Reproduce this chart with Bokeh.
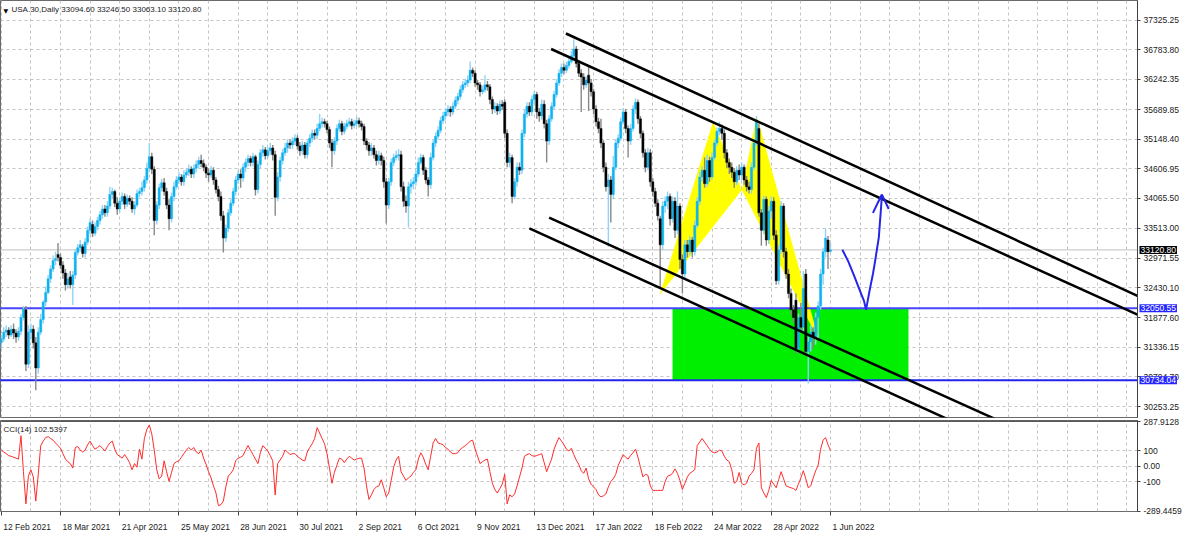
from bokeh.plotting import figure
from bokeh.layouts import column, row
from bokeh.models import (Range1d, FixedTicker, PrintfTickFormatter, Label, LinearAxis,
                          ColumnDataSource, Span)
from bokeh.embed import file_html
from bokeh.resources import INLINE

# ---------------- data (USA.30 daily, bar index 0 = 12 Feb 2021) ----------------
opens = [
31420, 31491, 31615, 31651, 31562, 31669, 31598, 31527, 31633, 31882,
32024, 31030, 31615, 31669, 31420, 30959, 31615, 31846, 32166, 32343,
32592, 32769, 32929, 33035, 32982, 32840, 32698, 32485, 32627, 32485,
32663, 33071, 33160, 33177, 33053, 33266, 33479, 33586, 33426, 33550,
33657, 33763, 33870, 33799, 33923, 34136, 34189, 33976, 33870, 34012,
34100, 33958, 34065, 34012, 33870, 33941, 34154, 34189, 34260, 34402,
34615, 34828, 34597, 33657, 33941, 34260, 34349, 34189, 33941, 33692,
34100, 34278, 34402, 34455, 34367, 34491, 34544, 34597, 34509, 34615,
34686, 34757, 34704, 34633, 34526, 34491, 34580, 34402, 34225, 34100,
33745, 33337, 33515, 33799, 33976, 34189, 34402, 34509, 34438, 34633,
34722, 34793, 34722, 34828, 34225, 34686, 34899, 34952, 34846, 34935,
34988, 34864, 34083, 34455, 34757, 34899, 34988, 35077, 35041, 35112,
35165, 35023, 34935, 35041, 34864, 35077, 35165, 35254, 35219, 35343,
35432, 35467, 35432, 35325, 35077, 34935, 35112, 35343, 35432, 35290,
35378, 35432, 35467, 35396, 35432, 35485, 35432, 35378, 35112, 35041,
34935, 34988, 34864, 34757, 34846, 34757, 34367, 33941, 34367, 34722,
34810, 34846, 34864, 34278, 34012, 33923, 34278, 34331, 34367, 34509,
34722, 34810, 34580, 34402, 34313, 34810, 35077, 35201, 35307, 35485,
35574, 35645, 35698, 35645, 35751, 35858, 35929, 36053, 36142, 36177,
36230, 36408, 36355, 36177, 36142, 36017, 36053, 36142, 36106, 35875,
35698, 35751, 35662, 35787, 35822, 35254, 34722, 34810, 34100, 34367,
34633, 34580, 35254, 35609, 35751, 35645, 35875, 35964, 35645, 35574,
35787, 35432, 35112, 35520, 35751, 35964, 36177, 36355, 36461, 36408,
36497, 36568, 36674, 36798, 36532, 36355, 36284, 36142, 36319, 36177,
36017, 35698, 35467, 35343, 35077, 34633, 34278, 34402, 34136, 34633,
35077, 35165, 35467, 35645, 35343, 35112, 35343, 35698, 35822, 35520,
35254, 34899, 34633, 34899, 34367, 34189, 33976, 33692, 33213, 33923,
34012, 34100, 33692, 34012, 33479, 33923, 32947, 32680, 33213, 33089,
33302, 33089, 33568, 34012, 34455, 34580, 34331, 34757, 34455, 34810,
35077, 35290, 35343, 35254, 34899, 34722, 34633, 34544, 34367, 34580,
34491, 34633, 34402, 34278, 34225, 34633, 35077, 35343, 33799, 33479,
34047, 33302, 33834, 34012, 33390, 32556, 33124, 33923, 33089, 32680,
32325, 32024, 32201, 31314, 31882, 31704, 32680, 31260, 31438, 31615,
31527, 31882, 32095, 32680, 33089, 33302, 33094.60]

highs = [
31562, 31704, 31740, 31704, 31740, 31775, 31669, 31704, 31953, 32095,
32095, 31740, 31775, 31740, 31527, 31704, 31953, 32201, 32450, 32663,
32840, 33018, 33089, 33248, 33053, 32911, 32769, 32698, 32734, 32734,
33124, 33231, 33302, 33231, 33337, 33550, 33692, 33657, 33621, 33728,
33834, 33941, 33941, 34012, 34278, 34260, 34225, 34083, 34083, 34171,
34154, 34136, 34118, 34083, 34012, 34225, 34260, 34367, 34473, 34722,
35077, 34899, 34651, 34012, 34331, 34420, 34438, 34260, 34047, 34171,
34367, 34473, 34544, 34509, 34580, 34615, 34686, 34651, 34686, 34757,
34828, 34864, 34775, 34686, 34615, 34651, 34633, 34455, 34296, 34189,
33834, 33586, 33870, 34047, 34260, 34473, 34580, 34597, 34704, 34793,
34864, 34846, 34899, 34864, 34757, 34970, 35041, 35006, 35006, 35077,
35041, 34935, 34544, 34828, 34970, 35077, 35148, 35148, 35183, 35236,
35219, 35094, 35112, 35094, 35148, 35236, 35325, 35325, 35432, 35609,
35538, 35520, 35485, 35378, 35148, 35183, 35414, 35503, 35485, 35449,
35503, 35538, 35520, 35503, 35556, 35538, 35485, 35432, 35165, 35094,
35077, 35041, 34935, 34935, 34899, 34828, 34438, 34438, 34793, 34881,
34935, 34970, 34935, 34367, 34118, 34367, 34420, 34455, 34580, 34810,
34881, 34864, 34633, 34455, 34899, 35148, 35272, 35378, 35556, 35645,
35716, 35769, 35751, 35822, 35929, 35999, 36124, 36213, 36248, 36319,
36568, 36461, 36408, 36230, 36195, 36124, 36319, 36213, 36159, 35929,
35822, 35804, 35858, 35858, 35875, 35325, 34899, 34864, 34438, 34722,
34722, 35325, 35680, 35822, 35822, 35946, 36035, 36017, 35716, 35875,
35858, 35503, 35591, 35822, 36035, 36248, 36426, 36532, 36532, 36568,
36639, 36763, 36976, 36852, 36585, 36426, 36355, 36301, 36497, 36248,
36071, 35769, 35538, 35520, 35130, 34722, 34509, 34473, 34846, 35148,
35236, 35538, 35716, 35698, 35396, 35432, 35769, 35893, 35875, 35574,
35307, 34970, 34988, 34970, 34438, 34260, 34047, 33745, 34012, 34100,
34189, 34154, 34100, 34083, 34189, 33976, 33035, 33302, 33302, 33373,
33355, 33657, 34083, 34544, 34651, 34810, 34864, 34828, 34899, 35148,
35361, 35467, 35414, 35325, 34970, 34793, 34722, 34615, 34651, 34686,
34722, 34686, 34473, 34367, 34722, 35148, 35574, 35432, 33870, 34118,
34100, 33923, 34100, 34083, 33479, 33213, 34012, 33976, 33160, 32769,
32414, 32112, 32325, 31953, 32148, 32734, 32769, 31527, 31740, 31704,
31970, 32183, 32769, 33160, 33515, 33373, 33246.50]

lows = [
31314, 31438, 31527, 31491, 31527, 31491, 31420, 31456, 31562, 31828,
30905, 30959, 31491, 31314, 30550, 30852, 31562, 31775, 32095, 32308,
32521, 32716, 32840, 32911, 32769, 32592, 32379, 32414, 32414, 32112,
32592, 33018, 33089, 32982, 32982, 33213, 33408, 33355, 33373, 33479,
33586, 33692, 33728, 33728, 33870, 34047, 33905, 33763, 33799, 33941,
33870, 33905, 33941, 33799, 33763, 33905, 34083, 34118, 34189, 34331,
34544, 34509, 33390, 33586, 33870, 34189, 34118, 33870, 33479, 33621,
34012, 34225, 34331, 34296, 34296, 34438, 34473, 34438, 34438, 34544,
34615, 34633, 34562, 34438, 34367, 34438, 34313, 34154, 34012, 33657,
33071, 33266, 33444, 33745, 33923, 34118, 34331, 34260, 34367, 34544,
34651, 34651, 34651, 34118, 34154, 34615, 34828, 34775, 34793, 34864,
34757, 33745, 34012, 34367, 34686, 34846, 34899, 34970, 34970, 35041,
34952, 34846, 34864, 34793, 34793, 35006, 35094, 35148, 35148, 35290,
35361, 35361, 35254, 34988, 34633, 34864, 35041, 35290, 35219, 35236,
35325, 35378, 35325, 35343, 35378, 35361, 35307, 35041, 34952, 34846,
34846, 34793, 34668, 34686, 34668, 34260, 33603, 33870, 34296, 34651,
34757, 34757, 34189, 33905, 33799, 33532, 34154, 34225, 34296, 34455,
34686, 34491, 34331, 34100, 34242, 34757, 35006, 35148, 35254, 35432,
35503, 35574, 35556, 35591, 35698, 35787, 35875, 35999, 36088, 36106,
36177, 36284, 36106, 36053, 35929, 35964, 35999, 36035, 35787, 35609,
35627, 35591, 35609, 35680, 35165, 34633, 34633, 33976, 34047, 34278,
34491, 34509, 35183, 35538, 35574, 35574, 35787, 35520, 35467, 35503,
35343, 34722, 35041, 35467, 35698, 35911, 36124, 36284, 36337, 36355,
36443, 36532, 36621, 36461, 36284, 35645, 36053, 36088, 35662, 35929,
35609, 35378, 35254, 34988, 34544, 34189, 33177, 33621, 34047, 34580,
34988, 35112, 35414, 35254, 34810, 35041, 35290, 35609, 35432, 35165,
34810, 34544, 34580, 34278, 34100, 33905, 33657, 32414, 33124, 33799,
33870, 33568, 33621, 33337, 33408, 32769, 32325, 32592, 32982, 33018,
32982, 33018, 33515, 33941, 34367, 34260, 34278, 34367, 34402, 34757,
35023, 35219, 35148, 34793, 34615, 34509, 34438, 34260, 34313, 34402,
34402, 34313, 34189, 34154, 34154, 34580, 35023, 33728, 33195, 33408,
33195, 33231, 33692, 33302, 32485, 32485, 33053, 32982, 32592, 32237,
31935, 31793, 31207, 31243, 31633, 31633, 31172, 30675, 31260, 31314,
31385, 31491, 32024, 32485, 32982, 32769, 33063.10]

closes = [
31491, 31615, 31651, 31562, 31669, 31598, 31527, 31633, 31882, 32041,
31030, 31615, 31669, 31420, 30959, 31615, 31846, 32166, 32343, 32592,
32769, 32929, 32964, 32982, 32840, 32698, 32485, 32592, 32485, 32663,
33071, 33160, 33213, 33053, 33266, 33479, 33621, 33426, 33550, 33657,
33763, 33870, 33799, 33923, 34136, 34189, 33976, 33870, 34012, 34100,
33958, 34065, 34012, 33870, 33941, 34154, 34189, 34260, 34402, 34615,
34828, 34597, 33657, 33941, 34260, 34349, 34189, 33941, 33692, 34100,
34278, 34402, 34455, 34367, 34491, 34544, 34597, 34509, 34615, 34686,
34757, 34704, 34633, 34526, 34491, 34580, 34402, 34225, 34100, 33745,
33337, 33515, 33799, 33976, 34189, 34402, 34509, 34438, 34633, 34722,
34793, 34722, 34828, 34225, 34686, 34899, 34952, 34846, 34935, 34988,
34864, 34083, 34455, 34757, 34899, 34988, 35077, 35041, 35112, 35165,
35023, 34935, 35041, 34864, 35077, 35165, 35254, 35219, 35343, 35432,
35467, 35432, 35325, 35077, 34935, 35112, 35343, 35432, 35290, 35378,
35432, 35467, 35396, 35432, 35485, 35432, 35378, 35112, 35041, 34935,
34988, 34864, 34757, 34846, 34757, 34367, 33941, 34367, 34722, 34810,
34846, 34864, 34278, 34012, 33923, 34278, 34331, 34367, 34509, 34722,
34810, 34580, 34402, 34313, 34810, 35077, 35201, 35307, 35485, 35574,
35645, 35698, 35645, 35751, 35858, 35929, 36053, 36142, 36177, 36230,
36408, 36355, 36177, 36142, 36017, 36053, 36142, 36106, 35875, 35698,
35751, 35662, 35787, 35751, 35254, 34722, 34810, 34100, 34367, 34633,
34580, 35254, 35609, 35751, 35645, 35875, 35964, 35645, 35574, 35787,
35432, 35112, 35520, 35751, 35964, 36177, 36355, 36461, 36408, 36497,
36568, 36674, 36798, 36532, 36355, 36284, 36142, 36230, 36177, 36017,
35698, 35467, 35343, 35077, 34633, 34278, 34402, 34136, 34633, 35077,
35165, 35467, 35645, 35343, 35112, 35343, 35698, 35822, 35520, 35254,
34899, 34633, 34899, 34367, 34189, 33976, 33745, 33213, 33923, 34012,
34100, 33692, 34012, 33479, 33923, 32947, 32680, 33213, 33089, 33302,
33089, 33568, 34012, 34455, 34580, 34331, 34757, 34455, 34810, 35077,
35290, 35343, 35254, 34899, 34722, 34633, 34544, 34367, 34580, 34491,
34633, 34402, 34278, 34225, 34633, 35077, 35467, 33799, 33479, 34047,
33302, 33834, 34012, 33390, 32556, 33124, 33923, 33089, 32680, 32325,
32024, 31882, 31314, 31882, 31704, 32414, 31260, 31438, 31615, 31527,
31882, 32095, 32680, 33089, 33337, 33089, 33120.80]

cci = [
104, 92, 81, 69, 64, 58, 52, 46, 197, -35,
-243, -64, -23, -69, -225, -52, 133, 162, 185, 191,
179, 168, 150, 133, 116, 81, 46, 29, 17, -12,
121, 127, 104, 92, 104, 139, 162, 133, 110, 121,
133, 116, 98, 127, 150, 162, 110, 75, 64, 52,
75, 52, 23, -23, 17, -6, 110, 46, 179, 237,
266, 208, 104, -23, -81, -64, 35, -35, -98, -40,
17, 29, 35, 58, 81, 104, 121, 104, 121, 92,
81, 104, 52, 12, -35, -75, -127, -173, -254, -248,
-225, -133, -64, -46, -23, 35, 52, 58, 69, 104,
133, 104, 75, 46, 17, 87, 133, 116, 98, 69,
35, -185, 17, 40, 64, 104, 92, 75, 81, 81,
64, 52, 40, 35, 92, 121, 145, 179, 249, 214,
179, 145, 81, -12, -110, -40, 6, 52, 46, 23,
46, 64, 52, 40, 46, 52, 52, -12, -127, -214,
-185, -150, -133, -127, -87, -139, -197, -173, -92, -6,
40, 64, -35, -64, -92, -75, -64, -40, -23, 46,
87, 58, 12, -23, 64, 150, 179, 150, 145, 139,
121, 110, 92, 81, 81, 87, 110, 121, 133, 145,
162, 168, 110, 64, 17, 29, 40, 46, -35, -110,
-150, -173, -144, -116, -52, -243, -185, -197, -179, -127,
-69, -12, 64, 75, 81, 69, 64, 69, 75, 81,
23, -35, 6, 46, 110, 150, 185, 162, 139, 110,
98, 116, 75, 40, 12, -29, -46, -12, -81, -116,
-133, -150, -185, -197, -191, -179, -133, -98, -81, -52,
6, 40, 75, 58, 46, 69, 87, 110, 58, -6,
-69, -52, -58, -127, -156, -156, -156, -156, -156, -98,
-64, -58, -46, -17, -46, -92, -150, -110, -69, -46,
-35, -23, 133, 156, 179, 156, 133, 110, 92, 87,
92, 104, 98, 64, 40, 29, -23, -110, -98, -40,
-110, -121, -110, -64, -46, -23, 116, 150, -139, -173,
-202, -156, -92, -116, -139, -87, -35, -81, -127, -133,
-139, -144, -156, -116, -75, -29, -81, -139, -127, -75,
-29, 6, 110, 168, 185, 139, 102.5397]

date_ticks = [0, 24, 48, 72, 96, 120, 144, 168, 192, 216, 240, 264, 288, 312, 336]
date_labels = ["12 Feb 2021", "18 Mar 2021", "21 Apr 2021", "25 May 2021", "28 Jun 2021",
               "30 Jul 2021", "2 Sep 2021", "6 Oct 2021", "9 Nov 2021", "13 Dec 2021",
               "17 Jan 2022", "18 Feb 2022", "24 Mar 2022", "28 Apr 2022", "1 Jun 2022"]
price_ticks = [37325.25, 36783.80, 36242.35, 35689.85, 35148.40, 34606.95, 34065.50,
               33513.00, 32971.55, 32430.10, 31877.60, 31336.15, 30794.70, 30253.25]
cci_ticks = [287.9128, 100, 0, -100, -289.4459]
cci_tick_labels = ["287.9128", "100", "0.00", "-100", "-289.4459"]

header_text = "USA.30,Daily 33094.60 33246.50 33063.10 33120.80"
cci_text = "CCI(14) 102.5397"

# horizontal levels
level_upper = 32050.55
level_lower = 30734.04
last_price = 33120.80

# green zone (bar index span, prices)
zone_left, zone_right = 272.0, 367.6

# harmonic pattern points X, A, B, C, D
pat_x = [266.8, 288.4, 300.1, 306.1, 331.5]
pat_y = [32295, 35467, 34219, 35579, 31438]

# channel lines (bar index, price) endpoints
chan_x = [[228.8, 460.4], [222.8, 460.4], [222.0, 438.8], [214.0, 438.8]]
chan_y = [[37082, 32281], [36798, 31935], [33710, 29290], [33515, 28882]]

# hand-drawn projection arrow
arrow_x = [340.8, 343.2, 345.6, 347.6, 349.6, 350.4, 352.0, 353.2, 354.0, 354.8, 355.6, 356.0, 356.4, 356.8]
arrow_y = [33124, 32911, 32645, 32414, 32183, 32024, 32414, 32680, 32893, 33124, 33355, 33603, 33834, 34100]
head_x = [[353.2, 356.8], [356.8, 359.6]]
head_y = [[33799, 34136], [34136, 33870]]

assert len(opens) == len(highs) == len(lows) == len(closes) == len(cci) == 337

# ---------------- layout constants ----------------
FONT = "Liberation Sans"
LBL = "8.5px"
W = 1184
RB = 46
H_MAIN = 418
H_CCI = 116
X_START, X_END = -0.3, 460.4
PRICE_LO, PRICE_HI = 30053, 37686
CCI_LO, CCI_HI = -292, 295
grid_x = list(range(0, 461, 12))

UP_BODY, UP_WICK = "#0fb2f0", "#8fd3f5"
DN_BODY, DN_WICK = "#000000", "#888888"

xr = Range1d(X_START, X_END)
yr_main = Range1d(PRICE_LO, PRICE_HI)

p = figure(width=W, height=H_MAIN, x_range=xr, y_range=yr_main,
           y_axis_location="right", x_axis_location=None, output_backend="svg",
           toolbar_location=None, min_border_left=0, min_border_right=RB,
           min_border_top=0, min_border_bottom=1)

p2 = figure(width=W, height=H_CCI, x_range=xr, y_range=Range1d(CCI_LO, CCI_HI),
            y_axis_location="right", x_axis_location="below", output_backend="svg",
            toolbar_location=None, min_border_left=0, min_border_right=RB,
            min_border_top=2, min_border_bottom=14)

for f in (p, p2):
    f.background_fill_color = "white"
    f.border_fill_color = "white"
    f.outline_line_color = "#6a6a6a"
    f.outline_line_width = 1
    f.xgrid.ticker = FixedTicker(ticks=grid_x)
    for g in (f.xgrid, f.ygrid):
        g.grid_line_color = "#c4c4c4"
        g.grid_line_dash = "3 3"
        g.grid_line_width = 1
    ax = f.yaxis[0]
    ax.axis_line_color = "#404040"
    ax.major_tick_line_color = "#404040"
    ax.major_tick_out = 3
    ax.major_tick_in = 0
    ax.minor_tick_line_color = None
    ax.major_label_text_font = FONT
    ax.major_label_text_font_size = LBL
    ax.major_label_text_color = "#1a1a1a"
    ax.major_label_standoff = 3

p.yaxis[0].ticker = FixedTicker(ticks=price_ticks)
p.yaxis[0].formatter = PrintfTickFormatter(format="%.2f")
p.ygrid.ticker = FixedTicker(ticks=price_ticks)

p2.yaxis[0].ticker = FixedTicker(ticks=cci_ticks)
p2.yaxis[0].major_label_overrides = {t: s for t, s in zip(cci_ticks, cci_tick_labels)}
p2.ygrid.ticker = FixedTicker(ticks=[100, 0, -100])

# date axis: tick marks at the bars, labels start just right of each tick
xa = p2.xaxis[0]
xa.ticker = FixedTicker(ticks=date_ticks)
xa.major_label_overrides = {t: "" for t in date_ticks}
xa.major_label_text_font_size = "1px"
xa.major_label_standoff = 0
xa.axis_line_color = None
xa.major_tick_line_color = "#404040"
xa.major_tick_out = 4
xa.major_tick_in = 0
xa.minor_tick_line_color = None

CHAR_EM = {" ": 0.278, "F": 0.611, "M": 0.833, "A": 0.667, "J": 0.5, "S": 0.667, "O": 0.778,
           "N": 0.722, "D": 0.722, "r": 0.333, "y": 0.5, "l": 0.222, "c": 0.5, "t": 0.278, "v": 0.5}
px_per_bar = (W - RB) / (X_END - X_START)


def text_px(s, size=8.5):
    return sum(CHAR_EM.get(ch, 0.556) for ch in s) * size


label_pos = [round(t + (text_px(s) / 2 + 2) / px_per_bar, 3) for t, s in zip(date_ticks, date_labels)]
xb = LinearAxis(ticker=FixedTicker(ticks=label_pos),
                major_label_overrides={pos: s for pos, s in zip(label_pos, date_labels)},
                axis_line_color=None, major_tick_line_color=None, minor_tick_line_color=None,
                major_label_standoff=0, major_label_text_font=FONT,
                major_label_text_font_size=LBL, major_label_text_color="#1a1a1a")
p2.add_layout(xb, "below")

# ---------------- main panel ----------------
p.segment(x0=[X_START - 5], x1=[X_END + 5], y0=[last_price], y1=[last_price],
          line_color="#c0c0c0", line_width=1)

p.quad(left=[zone_left], right=[zone_right], bottom=[level_lower], top=[level_upper],
       fill_color="#00ee00", line_color=None)

p.patches(xs=[[pat_x[0], pat_x[1], pat_x[2]], [pat_x[2], pat_x[3], pat_x[4]]],
          ys=[[pat_y[0], pat_y[1], pat_y[2]], [pat_y[2], pat_y[3], pat_y[4]]],
          fill_color="#ffff00", line_color=None)

p.segment(x0=[X_START - 5, X_START - 5], x1=[X_END + 5, X_END + 5],
          y0=[level_upper, level_lower], y1=[level_upper, level_lower],
          line_color=["#4646ff", "#2424f0"], line_width=2)

idx = list(range(len(closes)))


def candle_source(ids):
    return ColumnDataSource(dict(
        x=ids,
        h=[highs[i] for i in ids],
        l=[lows[i] for i in ids],
        top=[max(opens[i], closes[i]) for i in ids],
        bot=[min(opens[i], closes[i]) for i in ids]))


up_ids = [i for i in idx if closes[i] >= opens[i]]
dn_ids = [i for i in idx if closes[i] < opens[i]]
for ids, body, wick in ((up_ids, UP_BODY, UP_WICK), (dn_ids, DN_BODY, DN_WICK)):
    s = candle_source(ids)
    p.segment(x0="x", y0="h", x1="x", y1="l", source=s, line_color=wick, line_width=1.4)
    p.vbar(x="x", top="top", bottom="bot", width=0.9, source=s,
           fill_color=body, line_color=body, line_width=0.4)

p.multi_line(xs=chan_x, ys=chan_y, line_color="black", line_width=2.5)

p.line(arrow_x, arrow_y, line_color="#2626e8", line_width=2)
p.multi_line(xs=head_x, ys=head_y, line_color="#2626e8", line_width=2)

p.add_layout(Label(x=3, x_units="screen", y=PRICE_HI, y_units="data", y_offset=-6,
                   text="\u25bc", text_font="DejaVu Sans", text_font_size="6px",
                   text_color="black", text_baseline="top"))
p.add_layout(Label(x=11, x_units="screen", y=PRICE_HI, y_units="data", y_offset=-4,
                   text=header_text, text_font=FONT, text_font_size="8px",
                   text_color="#1a1a1a", text_baseline="top"))

# ---------------- price boxes over the right scale (transparent overlay strip) ----------------
bx = figure(width=RB, height=H_MAIN, x_range=Range1d(0, 1), y_range=yr_main,
            x_axis_location=None, y_axis_location=None, output_backend="svg",
            toolbar_location=None, min_border_left=0, min_border_right=0,
            min_border_top=0, min_border_bottom=1, margin=(0, 0, 0, -RB))
bx.background_fill_alpha = 0
bx.border_fill_alpha = 0
bx.outline_line_color = None
bx.xgrid.visible = False
bx.ygrid.visible = False
extra = {"padding": 1} if "padding" in Label.properties() else {}
for lvl, bg in ((level_upper, "#2424ff"), (level_lower, "#2424ff"), (last_price, "#000000")):
    bx.add_layout(Label(x=1, x_units="screen", y=lvl, y_units="data",
                        text="%.2f" % lvl, text_font=FONT, text_font_size=LBL,
                        text_color="white", text_baseline="middle", text_align="left",
                        background_fill_color=bg, **extra))

# ---------------- CCI panel ----------------
p2.line(idx, cci, line_color="#ff2b2b", line_width=1)
p2.add_layout(Label(x=3, x_units="screen", y=CCI_HI, y_units="data", y_offset=-4,
                    text=cci_text, text_font=FONT, text_font_size="8px",
                    text_color="#1a1a1a", text_baseline="top"))
p2.add_layout(Span(location=CCI_HI, dimension="width", line_color="#5a5a5a", line_width=3))

layout = row(column(p, p2, spacing=0), bx, spacing=0)
open("out.html", "w").write(file_html(layout, INLINE, "USA.30 Daily"))
